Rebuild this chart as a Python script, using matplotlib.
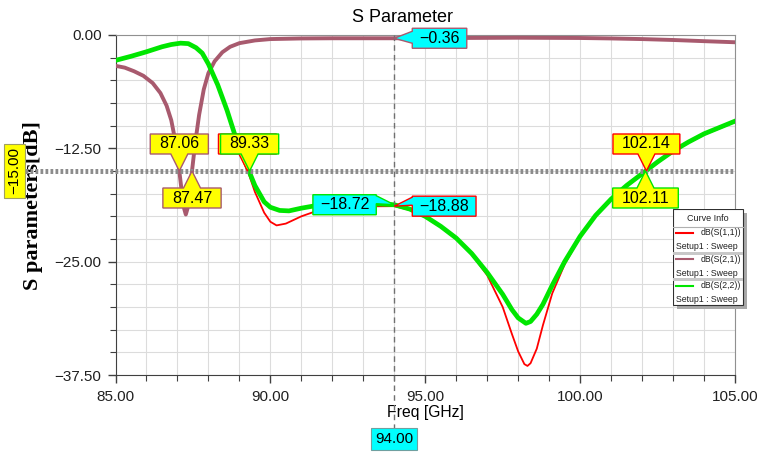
import matplotlib
matplotlib.use('Agg')
import matplotlib.pyplot as plt
import matplotlib.transforms as mtransforms
from matplotlib.patches import Polygon, Rectangle
from matplotlib.lines import Line2D
from matplotlib.ticker import MultipleLocator, FuncFormatter

plt.rcParams['font.family'] = ['Liberation Sans', 'DejaVu Sans']

# ---------------- data ----------------
freq_s11 = [85.0, 85.5, 86.0, 86.5, 86.8, 87.1, 87.35, 87.6, 87.8, 88.0, 88.3, 88.6, 88.9,
            89.2, 89.5, 89.8, 90.0, 90.2, 90.5, 91.0, 91.5, 92.0, 93.0, 94.0, 94.5,
            95.0, 95.5, 96.0, 96.5, 97.0, 97.5, 97.8, 98.0, 98.2, 98.3, 98.4, 98.6, 98.8,
            99.1, 99.5, 100.0, 100.5, 101.0, 101.5, 102.0, 102.5, 103.0, 103.5, 104.0,
            104.5, 105.0]
s11_db = [-2.8, -2.35, -1.85, -1.3, -1.05, -0.9, -0.95, -1.4, -2.0, -3.2, -5.5, -8.3, -11.5,
          -14.3, -17.3, -19.6, -20.6, -21.0, -20.8, -20.0, -19.4, -19.1, -18.9, -18.88, -19.3,
          -20.1, -21.2, -22.5, -24.2, -26.5, -30.0, -33.0, -34.9, -36.3, -36.5, -36.2, -34.6,
          -32.0, -28.5, -25.3, -22.3, -20.0, -18.2, -16.7, -15.4, -14.1, -12.9, -11.9, -11.0,
          -10.3, -9.6]

freq_s21 = [85.0, 85.3, 85.6, 85.9, 86.2, 86.45, 86.65, 86.8, 86.95, 87.06, 87.15, 87.22,
            87.27, 87.32, 87.39, 87.47, 87.57, 87.7, 87.85, 88.0, 88.2, 88.45, 88.7, 89.0,
            89.5, 90.0, 91.0, 92.0, 94.0, 96.0, 98.0, 100.0, 101.0, 102.0, 103.0, 104.0,
            105.0]
s21_db = [-3.4, -3.6, -4.0, -4.5, -5.3, -6.4, -7.8, -9.4, -12.0, -15.0, -17.6, -19.2,
          -19.8, -19.2, -17.4, -15.0, -12.0, -8.8, -6.0, -4.2, -2.9, -1.9, -1.3, -0.9,
          -0.6, -0.45, -0.38, -0.36, -0.36, -0.33, -0.3, -0.33, -0.38, -0.45, -0.55, -0.68,
          -0.8]

freq_s22 = [85.0, 85.5, 86.0, 86.5, 86.8, 87.1, 87.35, 87.6, 87.8, 88.0, 88.3, 88.6, 88.9,
            89.2, 89.5, 89.8, 90.0, 90.3, 90.6, 91.0, 91.5, 92.0, 93.0, 94.0, 94.5,
            95.0, 95.5, 96.0, 96.5, 97.0, 97.5, 97.8, 98.0, 98.25, 98.4, 98.6, 98.8, 99.1,
            99.5, 100.0, 100.5, 101.0, 101.5, 102.0, 102.5, 103.0, 103.5, 104.0,
            104.5, 105.0]
s22_db = [-2.8, -2.35, -1.85, -1.3, -1.05, -0.9, -0.95, -1.4, -2.0, -3.2, -5.5, -8.3, -11.5,
          -14.1, -16.6, -18.4, -19.0, -19.35, -19.4, -19.1, -18.8, -18.6, -18.55, -18.72, -19.2,
          -20.0, -21.1, -22.4, -24.1, -26.2, -28.6, -30.3, -31.2, -31.8, -31.6, -30.8, -29.7,
          -27.6, -25.0, -22.2, -19.9, -18.1, -16.6, -15.3, -14.0, -12.8, -11.8, -10.9,
          -10.2, -9.5]

curve_names = ['dB(S(1,1))', 'dB(S(2,1))', 'dB(S(2,2))']
curve_colors = ['#FF0000', '#A85A6E', '#00E600']
sweep_label = 'Setup1 : Sweep'

level_db = -15.0
s21_cross = [87.06, 87.47]
s11_cross = [89.26, 102.14]
s22_cross = [89.33, 102.11]
marker_freq = 94.0
marker_vals = {'s11': -18.88, 's21': -0.36, 's22': -18.72}

# ---------------- figure / axes ----------------
W, H = 762, 461
fig = plt.figure(figsize=(W / 100, H / 100), dpi=100)
L, R, T, B = 115.5, 735.0, 35.0, 375.0
ax = fig.add_axes([L / W, 1 - B / H, (R - L) / W, (B - T) / H])
ax.set_xlim(85, 105)
ax.set_ylim(-37.5, 0)

ax.plot(freq_s11, s11_db, color=curve_colors[0], lw=1.3, zorder=3)
ax.plot(freq_s21, s21_db, color=curve_colors[1], lw=2.8, zorder=4)
ax.plot(freq_s22, s22_db, color=curve_colors[2], lw=3.4, zorder=5)

fmt = FuncFormatter(lambda v, p: f"{v:.2f}".replace('-', '\u2212'))
ax.xaxis.set_major_locator(MultipleLocator(5))
ax.xaxis.set_minor_locator(MultipleLocator(1))
ax.yaxis.set_major_locator(MultipleLocator(12.5))
ax.yaxis.set_minor_locator(MultipleLocator(2.5))
ax.xaxis.set_major_formatter(fmt)
ax.yaxis.set_major_formatter(fmt)
ax.grid(True, which='both', color='#DCDCDC', lw=0.8, zorder=0)
ax.set_axisbelow(True)
ax.tick_params(which='major', length=6, width=1, color='#404040', labelsize=11,
               labelcolor='#202020')
ax.tick_params(which='minor', length=4, width=0.8, color='#404040')
ax.tick_params(axis='x', pad=5)
ax.tick_params(axis='y', pad=4)
for s in ['left', 'bottom']:
    ax.spines[s].set_color('#404040')
for s in ['top', 'right']:
    ax.spines[s].set_color('#909090')

fig.text(403 / W, 1 - 17 / H, 'S Parameter', ha='center', va='center', fontsize=13)
fig.text((L + R) / 2 / W, 1 - 412 / H, 'Freq [GHz]', ha='center', va='center', fontsize=11.3)
fig.text(33 / W, 1 - 206 / H, 'S parameters[dB]', ha='center', va='center', rotation=90,
         fontsize=16, fontweight='bold', family='Liberation Serif')

ident = mtransforms.IdentityTransform()
renderer = fig.canvas.get_renderer()


def to_px(x, y):
    return ax.transData.transform((x, y))


def text_width(s, fs):
    t = fig.text(0, 0, s, fontsize=fs)
    w = t.get_window_extent(renderer).width
    t.remove()
    return w


FS = 11.5

# horizontal dotted level line and vertical dashed marker line
_, ylev = to_px(85, level_db)
xm, _ = to_px(marker_freq, 0)
fig.add_artist(Line2D([25, R], [ylev, ylev], transform=ident, color='#8C8C8C', lw=3.6,
                      linestyle=(0, (0.55, 0.45)), zorder=6))
fig.add_artist(Line2D([xm, xm], [H - T, H - 428], transform=ident, color='#707070', lw=1.0,
                      linestyle=(0, (4, 3)), zorder=6))


def vcallout(x, y, label, ec, fc='#FFFF00', up=False, zo=10, show_text=True):
    px, py = to_px(x, y)
    w = text_width(label, FS) + 18
    h, th, hb = 20, 17, 8.5
    if not up:
        yb = py + th
        yt = yb + h
        pts = [(px - w / 2, yb), (px - hb, yb), (px, py), (px + hb, yb), (px + w / 2, yb),
               (px + w / 2, yt), (px - w / 2, yt)]
    else:
        yt = py - th
        yb = yt - h
        pts = [(px - w / 2, yt), (px - hb, yt), (px, py), (px + hb, yt), (px + w / 2, yt),
               (px + w / 2, yb), (px - w / 2, yb)]
    fig.add_artist(Polygon(pts, closed=True, transform=ident, fc=fc, ec=ec, lw=1.0, zorder=zo))
    if show_text:
        fig.text(px / W, (yb + yt) / 2 / H, label, ha='center', va='center', fontsize=FS,
                 zorder=zo + 0.5)


def hcallout(x, y, label, ec, right_of=True, base=(1, 8), fc='#00FFFF', zo=10):
    px, py = to_px(x, y)
    w = text_width(label, FS) + 14
    h, gap = 20, 18
    yt = py + h / 2
    yb = py - h / 2
    if right_of:
        xl = px + gap
        xr = xl + w
        pts = [(xl, yt), (xr, yt), (xr, yb), (xl, yb), (xl, yt - base[1]), (px, py),
               (xl, yt - base[0])]
    else:
        xr = px - gap
        xl = xr - w
        pts = [(xl, yt), (xr, yt), (xr, yt - base[0]), (px, py), (xr, yt - base[1]),
               (xr, yb), (xl, yb)]
    fig.add_artist(Polygon(pts, closed=True, transform=ident, fc=fc, ec=ec, lw=1.0, zorder=zo))
    fig.text((xl + xr) / 2 / W, py / H, label, ha='center', va='center', fontsize=FS,
             zorder=zo + 0.5)


fmt2 = lambda v: f"{v:.2f}".replace('-', '\u2212')

vcallout(s21_cross[0], level_db, fmt2(s21_cross[0]), curve_colors[1])
vcallout(s21_cross[1], level_db, fmt2(s21_cross[1]), curve_colors[1], up=True)
# S11 marker at the first crossing is hidden behind the S22 one (only its edge shows)
vcallout(s11_cross[0], level_db, fmt2(s11_cross[0]), curve_colors[0], zo=10, show_text=False)
vcallout(s22_cross[0], level_db, fmt2(s22_cross[0]), curve_colors[2], zo=11)
vcallout(s11_cross[1], level_db, fmt2(s11_cross[1]), curve_colors[0])
vcallout(s22_cross[1], level_db, fmt2(s22_cross[1]), curve_colors[2], up=True)

hcallout(marker_freq, marker_vals['s22'], fmt2(marker_vals['s22']), curve_colors[2],
         right_of=False, base=(1, 9))
hcallout(marker_freq, marker_vals['s11'], fmt2(marker_vals['s11']), curve_colors[0],
         right_of=True, base=(1, 9))
hcallout(marker_freq, marker_vals['s21'], fmt2(marker_vals['s21']), curve_colors[1],
         right_of=True, base=(3, 15))

# level label (rotated) on the left
fig.text(14.5 / W, ylev / H, fmt2(level_db), rotation=90, ha='center', va='center', fontsize=11,
         bbox=dict(boxstyle='square,pad=0.25', fc='#FFFF00', ec='#A0A060', lw=0.8), zorder=12)
# marker frequency label at the bottom
fig.text(xm / W, 1 - 439 / H, fmt2(marker_freq), ha='center', va='center', fontsize=11,
         bbox=dict(boxstyle='square,pad=0.25', fc='#00FFFF', ec='#70A0A0', lw=0.8), zorder=12)

# ---------------- "Curve Info" legend ----------------
lx0, ly0, lw_, lh_ = 672.5, 209.0, 71.0, 96.0
lax = fig.add_axes([lx0 / W, 1 - (ly0 + lh_ + 5) / H, (lw_ + 5) / W, (lh_ + 5) / H], zorder=20)
lax.set_xlim(0, lw_ + 5)
lax.set_ylim(lh_ + 5, 0)
lax.axis('off')
lax.add_patch(Rectangle((4, 4), lw_, lh_, fc='#A8A8A8', ec='none'))
lax.add_patch(Rectangle((0, 0), lw_, lh_, fc='white', ec='#303030', lw=0.8))
lax.text(lw_ / 2, 9.5, 'Curve Info', ha='center', va='center', fontsize=6.5, color='#202020')
lax.plot([0, lw_], [17.5, 17.5], color='#B0B0B0', lw=0.8)
for i, (nm, col) in enumerate(zip(curve_names, curve_colors)):
    y0 = 23.5 + i * 26.7
    lax.plot([3.5, 20.5], [y0, y0], color=col, lw=1.5)
    lax.text(lw_ - 2, y0, nm, ha='right', va='center', fontsize=6.3, color='#202020')
    lax.text(3, y0 + 14, sweep_label, ha='left', va='center', fontsize=6.3, color='#202020')
    if i < 2:
        lax.add_patch(Rectangle((0.5, y0 + 19), lw_ - 1, 3, fc='#C8C8C8', ec='none'))

fig.savefig('out.png', dpi=100)
